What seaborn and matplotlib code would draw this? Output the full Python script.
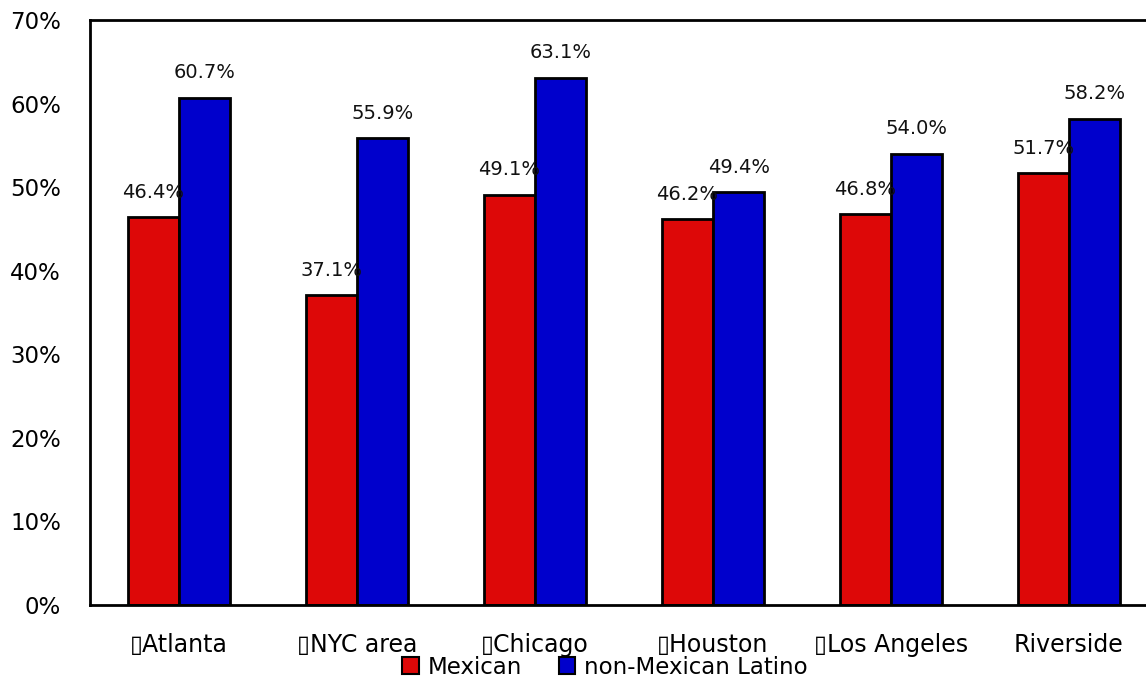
import matplotlib
matplotlib.use("Agg")
import matplotlib.pyplot as plt
import seaborn as sns
import pandas as pd
from matplotlib.patches import Patch
from matplotlib.ticker import FuncFormatter

cities = ["\u25afAtlanta", "\u25afNYC area", "\u25afChicago", "\u25afHouston", "\u25afLos Angeles", "Riverside"]
mexican = [46.4, 37.1, 49.1, 46.2, 46.8, 51.7]
non_mexican = [60.7, 55.9, 63.1, 49.4, 54.0, 58.2]
groups = ["Mexican", "non-Mexican Latino"]
colors = ["#dd0808", "#0000cc"]
yticks = [0, 10, 20, 30, 40, 50, 60, 70]

df = pd.DataFrame({
    "city": cities * 2,
    "value": mexican + non_mexican,
    "group": [groups[0]] * len(cities) + [groups[1]] * len(cities),
})

sns.set_theme(style="white")
plt.rcParams["font.family"] = ["DejaVu Sans"]

fig = plt.figure(figsize=(11.46, 6.85), dpi=100)
ax = fig.add_axes([90 / 1146, 80 / 685, 1068 / 1146, 585 / 685])

sns.barplot(data=df, x="city", y="value", hue="group", palette=colors,
            width=0.575, gap=0, edgecolor="black", linewidth=2,
            saturation=1, ax=ax, legend=False)

for cont in ax.containers:
    ax.bar_label(cont, labels=[f"{v:.1f}%" for v in cont.datavalues],
                 padding=11, fontsize=14, color="#111111")

ax.set_ylim(0, 70)
ax.set_xlim(-0.5, len(cities) - 0.5)
ax.set_yticks(yticks)
ax.yaxis.set_major_formatter(FuncFormatter(lambda v, p: f"{v:.0f}%"))
ax.set_xlabel("")
ax.set_ylabel("")
ax.tick_params(axis="y", length=0, pad=21, labelsize=16.5, labelcolor="black")
ax.tick_params(axis="x", length=0, pad=20.5, labelsize=17, labelcolor="black")
for s in ["left", "top", "bottom", "right"]:
    ax.spines[s].set_visible(True)
    ax.spines[s].set_color("black")
    ax.spines[s].set_linewidth(2)
ax.grid(False)

handles = [Patch(facecolor=c, edgecolor="black", linewidth=1.5, label=g) for c, g in zip(colors, groups)]
fig.legend(handles=handles, loc="center", bbox_to_anchor=(605 / 1146, 18 / 685), ncol=2,
           frameon=False, fontsize=16.5, handlelength=0.7, handleheight=0.7,
           handletextpad=0.4, columnspacing=1.6, borderpad=0, labelcolor="black")

fig.savefig("out.png", dpi=100)
